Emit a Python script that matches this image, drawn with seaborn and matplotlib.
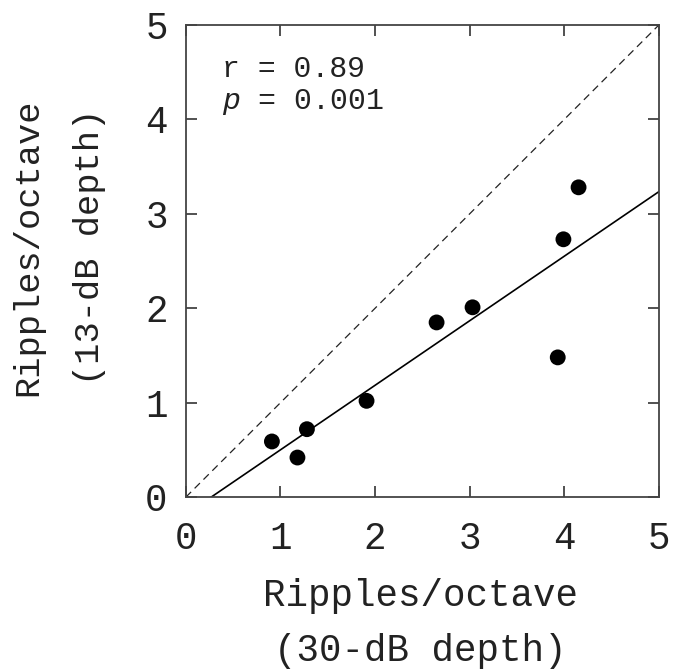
import numpy as np
import pandas as pd
import matplotlib
matplotlib.use("Agg")
import matplotlib.pyplot as plt
import seaborn as sns

# Data (ripples/octave)
depth30 = [0.91, 1.18, 1.28, 1.91, 2.65, 3.03, 3.93, 3.99, 4.15]
depth13 = [0.59, 0.42, 0.72, 1.02, 1.85, 2.01, 1.48, 2.73, 3.28]
ticks = [0, 1, 2, 3, 4, 5]
r_text = "r = 0.89"
p_text = "$p$ = 0.001"

df = pd.DataFrame({"x": depth30, "y": depth13})

sns.set_theme(style="ticks")
plt.rcParams['font.family'] = ['Liberation Mono', 'DejaVu Sans']
plt.rcParams['mathtext.fontset'] = 'custom'
plt.rcParams['mathtext.it'] = 'Liberation Mono:italic'
plt.rcParams['mathtext.rm'] = 'Liberation Mono'

fig = plt.figure(figsize=(6.78, 6.71), dpi=100)
ax = fig.add_axes([0.274, 0.259, 0.698, 0.704])
ax.set_xlim(0, 5)
ax.set_ylim(0, 5)

# identity line
ax.plot([0, 5], [0, 5], color="#222222", lw=0.9, ls=(0, (6, 4)))

sns.regplot(data=df, x="x", y="y", ax=ax, ci=None, truncate=False,
            scatter_kws=dict(s=130, color="black", edgecolor="none", alpha=1, zorder=3),
            line_kws=dict(color="black", lw=1.2))
ax.set_xlim(0, 5)
ax.set_ylim(0, 5)

ax.set_xticks(ticks)
ax.set_yticks(ticks)
ax.tick_params(direction="in", length=8, width=1.2, color="#333333",
               top=True, right=True, labelsize=27, labelcolor="#222222")
ax.tick_params(axis="x", pad=17)
ax.tick_params(axis="y", pad=13)
for s in ax.spines.values():
    s.set_color("#444444")
    s.set_linewidth(1.3)

ax.set_xlabel("Ripples/octave\n(30-dB depth)", fontsize=27, linespacing=1.68,
              color="#222222")
ax.set_ylabel("Ripples/octave\n(13-dB depth)", fontsize=25.5, linespacing=2.1,
              color="#222222")
ax.xaxis.set_label_coords(0.495, -0.17, transform=ax.transAxes)
ax.yaxis.set_label_coords(-0.168, 0.53, transform=ax.transAxes)

ax.text(0.38, 4.53, r_text, fontsize=21.5, va="center", ha="left", color="#222222")
ax.text(0.38, 4.18, p_text, fontsize=21.5, va="center", ha="left", color="#222222")

fig.savefig("out.png", dpi=100)
